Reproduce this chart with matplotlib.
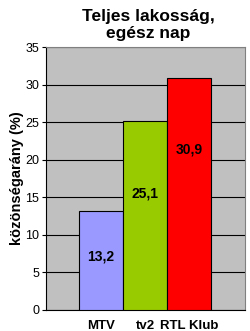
import matplotlib.pyplot as plt
import numpy as np

plt.rcParams['font.family'] = ['Liberation Sans', 'DejaVu Sans']

channels = ['MTV', 'tv2', 'RTL Klub']
shares = [13.2, 25.1, 30.9]
share_labels = ['13,2', '25,1', '30,9']
colors = ['#9999FF', '#99CC00', '#FF0000']
yticks = [0, 5, 10, 15, 20, 25, 30, 35]

fig = plt.figure(figsize=(2.5, 3.31), dpi=100)
ax = fig.add_axes([46/250, 21/331, 199/250, 263/331])
ax.set_facecolor('#C0C0C0')

x = np.arange(len(channels))
ax.bar(x, shares, width=1.0, color=colors, edgecolor='black', linewidth=0.8, zorder=3)

# label heights relative to bar height (as in the original)
label_frac = [0.537, 0.618, 0.69]
for xi, v, lab, f in zip(x, shares, share_labels, label_frac):
    ax.text(xi, v*f, lab, ha='center', va='center', fontsize=10, fontweight='bold', zorder=4)

ax.set_ylim(0, 35)
ax.set_xlim(-1.25, 3.27)
ax.set_yticks(yticks)
ax.yaxis.grid(True, color='black', linewidth=0.8, zorder=0)
ax.set_axisbelow(True)
ax.set_xticks(x)
ax.set_xticklabels(channels, fontsize=9.5, fontweight='bold')
ax.tick_params(axis='x', length=0, pad=7)
ax.tick_params(axis='y', labelsize=9, length=3, width=0.8, color='black', pad=2)

for s in ['top', 'right']:
    ax.spines[s].set_color('#808080')
ax.spines['left'].set_color('black')
ax.spines['bottom'].set_color('black')

ax.set_ylabel('közönségarány (%)', fontsize=10.5, fontweight='bold', labelpad=1)
fig.text(148/250, 1 - 25/331, 'Teljes lakosság,\negész nap', ha='center', va='center',
         fontsize=12.5, fontweight='bold', linespacing=1.15)

plt.savefig('out.png', dpi=100)
